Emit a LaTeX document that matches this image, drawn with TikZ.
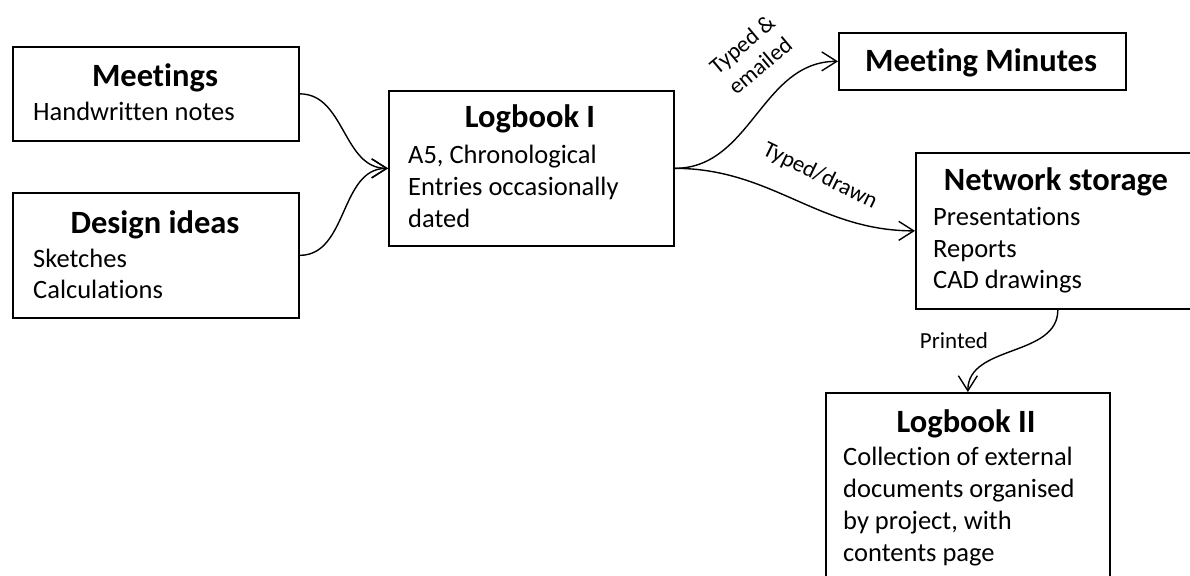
\documentclass[tikz,border=0pt]{standalone}
\usepackage{fontspec}
\setmainfont{Carlito}[Ligatures={NoCommon}]
\usetikzlibrary{arrows.meta}
\begin{document}
\begin{tikzpicture}[x=1pt,y=-1pt,
  boxnode/.style={draw,line width=1.7pt,inner sep=0pt,anchor=north west},
  titletext/.style={anchor=base,inner sep=0pt,font=\fontsize{32.5}{38}\selectfont\bfseries},
  bodytext/.style={anchor=base west,inner sep=0pt,font=\fontsize{26.5}{32}\selectfont},
  labeltext/.style={inner sep=0pt,font=\fontsize{23}{28}\selectfont},
  conn/.style={line width=1.4pt,-{Straight Barb[length=15pt,width=19pt,line width=1.4pt]}}]
\useasboundingbox (0,0) rectangle (1190,575);
\clip (0,0) rectangle (1190,575);
% boxes
\node[boxnode,minimum width=286pt,minimum height=94pt] (meet) at (12,46) {};
\node[boxnode,minimum width=286pt,minimum height=125pt] (design) at (12,192) {};
\node[boxnode,minimum width=285pt,minimum height=155pt] (logA) at (388,90) {};
\node[boxnode,minimum width=287pt,minimum height=57pt] (minutes) at (838,32) {};
\node[boxnode,minimum width=284pt,minimum height=156pt] (net) at (915,152) {};
\node[boxnode,minimum width=284pt,minimum height=220pt] (logB) at (825,392) {};
% texts
\node[titletext] (meetT) at (155,87) {Meetings};
\node[bodytext] (meetB) at (33,121) {Handwritten notes};
\node[titletext] (designT) at (155,233) {Design ideas};
\node[bodytext] (designB1) at (33,267) {Sketches};
\node[bodytext] (designB2) at (33,298) {Calculations};
\node[titletext] (logAT) at (530,128) {Logbook I};
\node[bodytext] (logAB1) at (408,163) {A5, Chronological};
\node[bodytext] (logAB2) at (408,195) {Entries occasionally};
\node[bodytext] (logAB3) at (408,227) {dated};
\node[titletext] (minutesT) at (981,72) {Meeting Minutes};
\node[titletext] (netT) at (1056,190) {Network storage};
\node[bodytext] (netB1) at (933,225) {Presentations};
\node[bodytext] (netB2) at (933,257) {Reports};
\node[bodytext] (netB3) at (933,288) {CAD drawings};
\node[titletext] (logBT) at (966,432) {Logbook II};
\node[bodytext] (logBB1) at (843,465) {Collection of external};
\node[bodytext] (logBB2) at (843,497) {documents organised};
\node[bodytext] (logBB3) at (843,529) {by project, with};
\node[bodytext] (logBB4) at (843,561) {contents page};
% connectors
\draw[conn] (meet.east) to[out=0,in=180] (logA.west);
\draw[conn] (design.east) to[out=0,in=180] (logA.west);
\draw[conn] (logA.east) to[out=0,in=180] (minutes.west);
\draw[conn] (logA.east) to[out=0,in=180] (net.west);
\draw[conn] (net.south) to[out=-90,in=90] (logB.north);
% labels
\node[labeltext,align=center,rotate=40] (lab1) at (751,55) {Typed \&\\emailed};
\node[labeltext,rotate=-26] (lab2) at (820,176) {Typed/drawn};
\node[labeltext] (lab3) at (954,341) {Printed};
\end{tikzpicture}
\end{document}
